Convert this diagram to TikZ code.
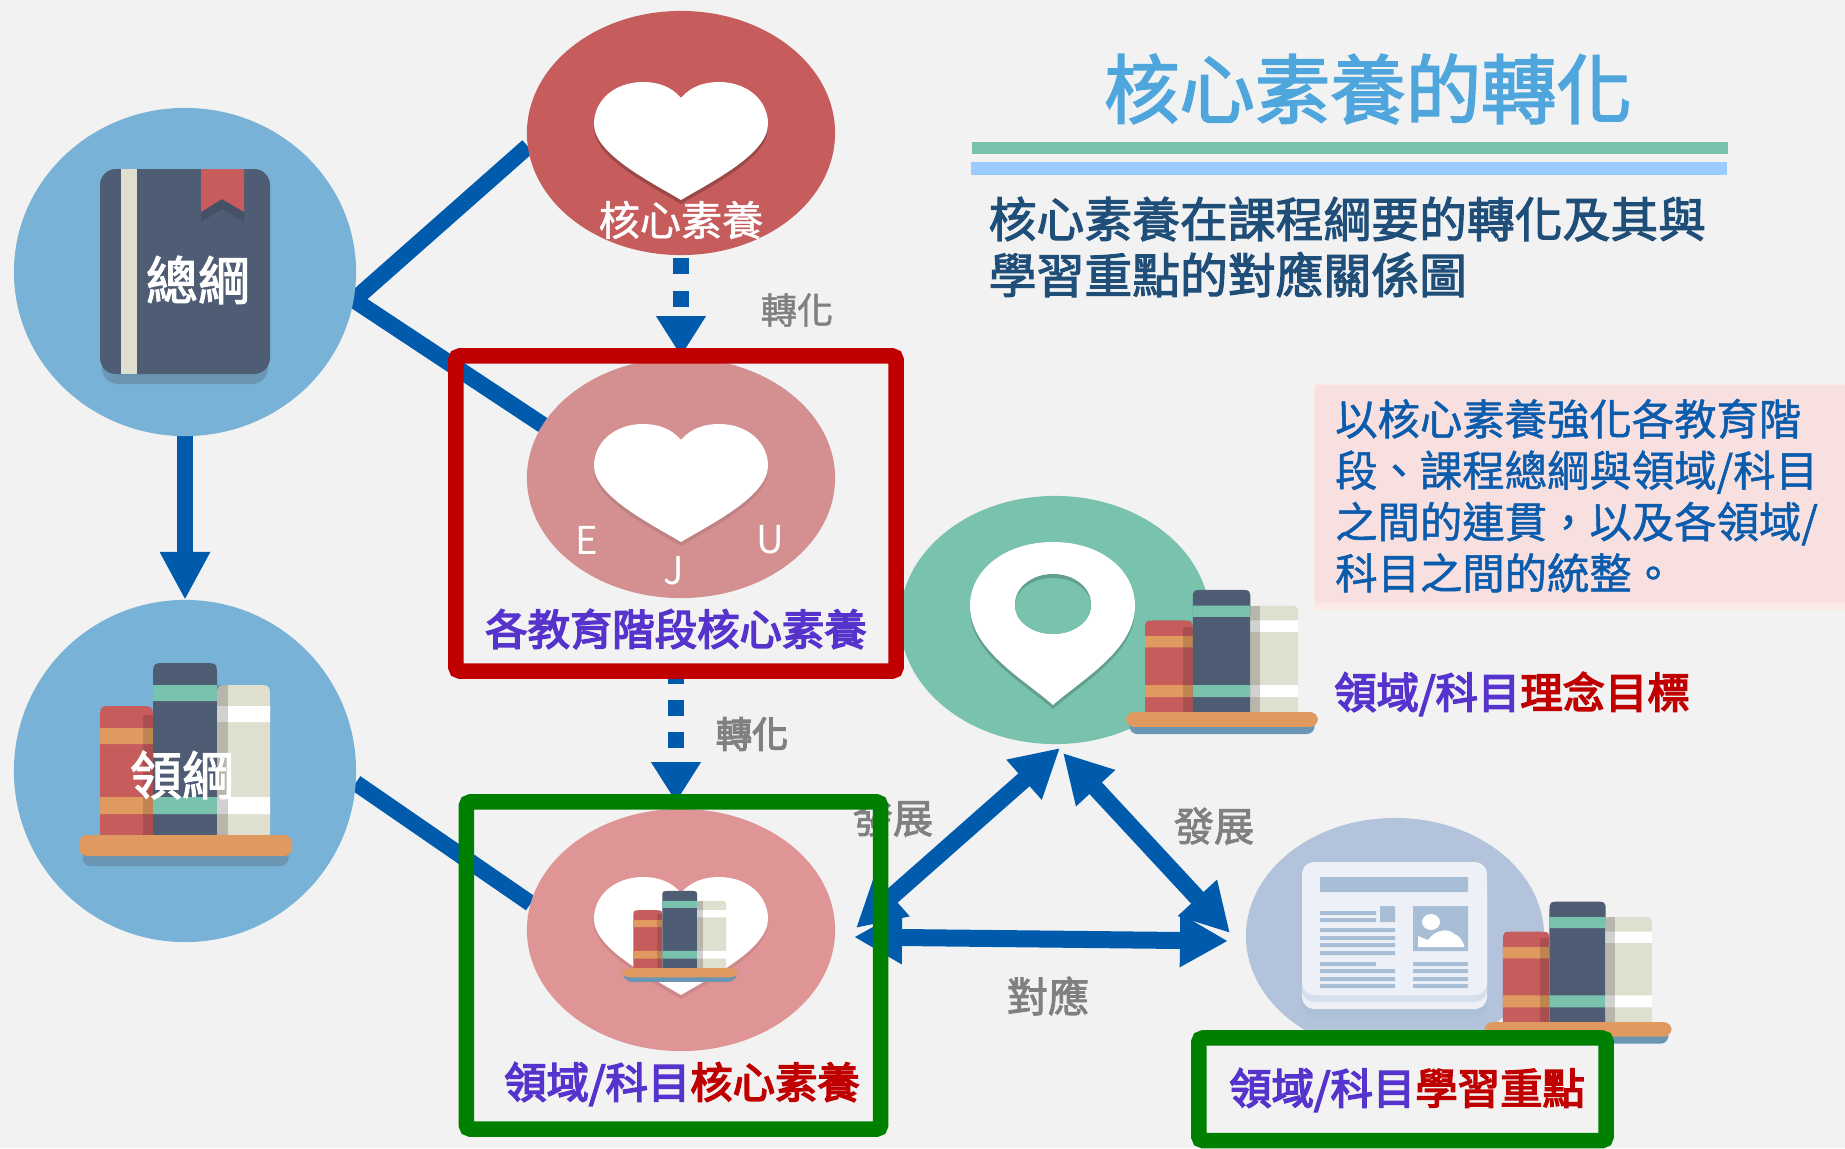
\documentclass[tikz,border=0pt]{standalone}
\usepackage{fontspec}
\setmainfont{Noto Sans CJK TC}
\newfontfamily\heavyfont[FakeBold=3.6]{Noto Sans CJK TC}
\newfontfamily\semifont[FakeBold=2.2]{Noto Sans CJK TC}
\newfontfamily\slightfont[FakeBold=1.2]{Noto Sans CJK TC}
\usepackage{xcolor}
\usepackage{tikz}
\usetikzlibrary{arrows.meta,shapes.geometric,positioning,backgrounds}

\definecolor{pagegrey}{HTML}{F2F2F2}
\definecolor{linkblue}{HTML}{005BAC}
\definecolor{skyblue}{HTML}{78B3D7}
\definecolor{corered}{HTML}{C65C5C}
\definecolor{levelrose}{HTML}{D49090}
\definecolor{arearose}{HTML}{DF9495}
\definecolor{aimteal}{HTML}{79C2AE}
\definecolor{goalblue}{HTML}{B3C3DB}
\definecolor{paperwhite}{HTML}{EDF1F7}
\definecolor{paperline}{HTML}{A8BDD6}
\definecolor{slatebook}{HTML}{4E5C74}
\definecolor{ivorybook}{HTML}{DFDFD0}
\definecolor{shelforange}{HTML}{E09A5F}
\definecolor{shelfshade}{HTML}{6A96B4}
\definecolor{framered}{HTML}{C00000}
\definecolor{framegreen}{HTML}{008000}
\definecolor{labelpurple}{HTML}{5533CC}
\definecolor{notepink}{HTML}{F9E0E0}
\definecolor{notetint}{HTML}{FCEBE4}
\definecolor{noteblue}{HTML}{0B5CAD}
\definecolor{subnavy}{HTML}{1F4E79}
\definecolor{titleblue}{HTML}{4EA6DC}
\definecolor{ruleblue}{HTML}{9CCBFF}

\newcommand{\bookbody}[3]{(#1,0) -- (#1,{#3+14}) .. controls (#1,#3) .. ({#1+14},#3) -- ({#2-14},#3) .. controls (#2,#3) .. (#2,{#3+14}) -- (#2,0) -- cycle}

\tikzset{
  disc/.style={ellipse,inner sep=0pt,outer sep=0pt},
  frame/.style={draw,rounded corners=0.04cm,line width=0.155cm},
  label/.style={inner sep=0pt,font=\fontsize{12.05}{14}\heavyfont},
  whitelabel/.style={inner sep=0pt,text=white,font=\fontsize{14.8}{16}\semifont},
  letter/.style={inner sep=0pt,text=white,font=\fontsize{10.9}{12}\selectfont},
  remark/.style={inner sep=0pt,text=gray,font=\fontsize{11.4}{13}\slightfont},
  link/.style={draw=linkblue,line width=0.165cm},
  bigarrow/.style={draw=linkblue,line width=0.16cm,-{Triangle[length=0.48cm,width=0.47cm]}},
  dasharrow/.style={draw=linkblue,line width=0.16cm,-{Triangle[length=0.40cm,width=0.47cm]},shorten >=-0.08cm},
  twoarrow/.style={draw=linkblue,line width=0.17cm,{Triangle[length=0.48cm,width=0.5cm]}-{Triangle[length=0.48cm,width=0.5cm]}},
  pics/heart/.style={code={
    \fill[#1] (0,20) .. controls (10,8) and (24,4) .. (38,4) .. controls (66,4) and (87,22) .. (87,46) .. controls (87,76) and (30,104) .. (0,122) .. controls (-30,104) and (-87,76) .. (-87,46) .. controls (-87,22) and (-66,4) .. (-38,4) .. controls (-24,4) and (-10,8) .. (0,20) -- cycle;
    \fill[white] (0,16) .. controls (10,4) and (24,0) .. (38,0) .. controls (66,0) and (87,18) .. (87,42) .. controls (87,72) and (30,100) .. (0,118) .. controls (-30,100) and (-87,72) .. (-87,42) .. controls (-87,18) and (-66,0) .. (-38,0) .. controls (-24,0) and (-10,4) .. (0,16) -- cycle;
  }},
  pics/bookshelf/.style={code={
    \fill[shelfshade,rounded corners=0.08cm] (-103,10) rectangle (103,31);
    \fill[corered] \bookbody{-85.5}{-32.5}{-129};
    \fill[shelforange] (-85.5,-107) rectangle (-32.5,-91) (-85.5,-38) rectangle (-32.5,-21);
    \fill[black,opacity=0.14] (-43,-120) rectangle (-32.5,0);
    \fill[slatebook] \bookbody{-32.5}{31.5}{-172};
    \fill[aimteal] (-32.5,-150) rectangle (31.5,-134) (-32.5,-38) rectangle (31.5,-21);
    \fill[ivorybook] \bookbody{31.5}{84.5}{-150};
    \fill[white] (31.5,-129) rectangle (84.5,-113) (31.5,-38) rectangle (84.5,-21);
    \fill[black,opacity=0.18] (31.5,-150) rectangle (42,0);
    \fill[shelforange,rounded corners=0.08cm] (-106.5,0) rectangle (106.5,21);
  }}
}

\begin{document}
\begin{tikzpicture}[x=0.01cm,y=-0.01cm]
\useasboundingbox (0,0) rectangle (1845,1148);

\node[disc,fill=skyblue,minimum width=3.42cm,minimum height=3.28cm] (outline) at (185,272) {};
\node[disc,fill=skyblue,minimum width=3.42cm,minimum height=3.42cm] (fieldoutline) at (185,771) {};
\node[disc,fill=corered,minimum width=3.08cm,minimum height=2.44cm] (core) at (681,133) {};
\node[disc,fill=levelrose,minimum width=3.08cm,minimum height=2.40cm] (levelcore) at (681,478) {};
\node[disc,fill=arearose,minimum width=3.08cm,minimum height=2.42cm] (areacore) at (681,930) {};
\node[disc,fill=aimteal,minimum width=3.10cm,minimum height=2.48cm] (aim) at (1055,620) {};
\node[disc,fill=goalblue,minimum width=2.98cm,minimum height=2.36cm] (goal) at (1395,936) {};

\coordinate (fork) at (354,300);
\begin{pgfonlayer}{background}
\fill[pagegrey] (0,0) rectangle (1845,1148);
\draw[link] (core.185) -- (fork) -- (levelcore.159);
\draw[link] (fieldoutline.-4) -- (areacore.170);
\end{pgfonlayer}

\fill[shelfshade,rounded corners=0.16cm] (102,200) rectangle (268,384);
\fill[slatebook,rounded corners=0.16cm] (100,169) rectangle (270,374);
\fill[ivorybook] (121,169) rectangle (137,374);
\fill[black!12!slatebook] (201,179) -- (201,222) -- (222,209) -- (244,222) -- (244,179) -- cycle;
\fill[corered] (201,169) -- (201,212) -- (222,199) -- (244,212) -- (244,169) -- cycle;

\pic (fieldbooks) at (185.5,835) {bookshelf};
\pic (coreheart) at (681,82) {heart=black!22!corered};
\pic (levelheart) at (681,424) {heart=black!10!levelrose};
\pic (areaheart) at (681,877) {heart=black!8!arearose};
\pic[xscale=0.545,yscale=0.448] (areabooks) at (680,968) {bookshelf};

\fill[black!18!aimteal] (1053,709) .. controls (1025,684) and (970,654) .. (970,610) .. controls (970,574) and (1005,546) .. (1053,546) .. controls (1101,546) and (1135,574) .. (1135,610) .. controls (1135,654) and (1081,684) .. (1053,709) -- cycle;
\fill[white] (1053,705) .. controls (1025,680) and (970,650) .. (970,606) .. controls (970,570) and (1005,542) .. (1053,542) .. controls (1101,542) and (1135,570) .. (1135,606) .. controls (1135,650) and (1081,680) .. (1053,705) -- cycle;
\fill[black!18!aimteal] (1053,604) ellipse (38 and 30);
\fill[aimteal] (1053,606) ellipse (38 and 28);
\pic[xscale=0.9,yscale=0.71] (aimbooks) at (1222,712) {bookshelf};

\fill[paperline!60!goalblue,rounded corners=0.12cm] (1302,880) rectangle (1487,1017);
\fill[paperwhite,rounded corners=0.12cm] (1302,880) rectangle (1487,1009);
\fill[goalblue!40!paperwhite,rounded corners=0.12cm] (1302,880) rectangle (1487,1002);
\fill[paperwhite,rounded corners=0.12cm] (1302,862) rectangle (1487,995);
\fill[paperline] (1320,877) rectangle (1468,892) (1320,911) rectangle (1376,915) (1320,918) rectangle (1376,922) (1380,906) rectangle (1395,922)
  (1320,928) rectangle (1395,932) (1320,936) rectangle (1395,940) (1320,943) rectangle (1395,947) (1320,951) rectangle (1395,955)
  (1320,962) rectangle (1376,966) (1320,969) rectangle (1395,973) (1320,977) rectangle (1395,981) (1320,984) rectangle (1395,988)
  (1413,962) rectangle (1468,966) (1413,969) rectangle (1468,973) (1413,977) rectangle (1468,981) (1413,984) rectangle (1468,988)
  (1413,906) rectangle (1468,951);
\fill[white] (1431,922) ellipse (9 and 8);
\fill[white] (1418,947) -- (1418,936) -- (1428,940) .. controls (1435,930) and (1447,928) .. (1453,933) .. controls (1460,937) .. (1464,945) -- (1464,947) -- cycle;
\pic[xscale=0.878,yscale=0.70] (goalbooks) at (1578,1022) {bookshelf};

\coordinate (areaup) at (856,928);
\coordinate (aimleft) at (1060,748);
\coordinate (aimright) at (1063,753);
\coordinate (goalup) at (1230,933);
\coordinate (areaside) at (854,937);
\coordinate (goalside) at (1228,941);

\node[remark,font=\fontsize{11.4}{13}\semifont] (leftgrow) at (893,818) {發展};
\node[remark,font=\fontsize{11.4}{13}\semifont] (rightgrow) at (1214,826) {發展};
\node[remark,font=\fontsize{11.7}{13}\semifont] (match) at (1048,996) {對應};
\node[remark,font=\fontsize{10.3}{12}\slightfont] (turnone) at (797,310) {轉化};
\node[remark,font=\fontsize{10.3}{12}\heavyfont] (turntwo) at (752,734) {轉化};

\draw[twoarrow] (areaup) -- (aimleft);
\draw[twoarrow] (aimright) -- (goalup);
\draw[twoarrow] (areaside) -- (goalside);

\node[frame,draw=framered,minimum width=4.40cm,minimum height=3.15cm] (levelbox) at (676,513.5) {};
\node[frame,draw=framegreen,minimum width=4.14cm,minimum height=3.27cm] (areabox) at (673.5,965.5) {};
\node[frame,draw=framegreen,fill=pagegrey,minimum width=4.07cm,minimum height=1.025cm] (goalbox) at (1402.5,1089.25) {};

\begin{pgfonlayer}{background}
\draw[bigarrow] (outline.south) -- (fieldoutline.north);
\draw[dasharrow,dash pattern=on 0.16cm off 0.17cm,shorten <=0.03cm] (core.south) -- (core.south |- levelbox.north);
\draw[dasharrow,xshift=0.02cm,dash pattern=on 0.16cm off 0.16cm,dash phase=0.11cm] (levelbox.south) -- (levelbox.south |- areabox.north);
\end{pgfonlayer}

\node[whitelabel] (outlinetext) at (198,280) {總綱};
\node[whitelabel] (fieldtext) at (182,775) {領綱};
\node[label,text=white,font=\fontsize{11.7}{14}\slightfont] (coretext) at (681,220) {核心素養};
\node[letter] (letterE) at (587,540) {E};
\node[letter] (letterJ) at (674,571) {J};
\node[letter] (letterU) at (770,540) {U};
\node[label,text=labelpurple] (leveltext) at (676,629) {各教育階段核心素養};
\node[label] (areatext) at (682,1084) {\textcolor{labelpurple}{領域/科目}\textcolor{framered}{核心素養}};
\node[label] (goaltext) at (1407,1090) {\textcolor{labelpurple}{領域/科目}\textcolor{framered}{學習重點}};
\node[label] (aimtext) at (1512,694) {\textcolor{labelpurple}{領域/科目}\textcolor{framered}{理念目標}};

\node[inner sep=0pt,text=titleblue,font=\fontsize{21.45}{24}\semifont] (title) at (1368,89) {核心素養的轉化};
\fill[aimteal] (972,142) rectangle (1728,154);
\fill[notetint] (1314,384) rectangle (1845,610);
\fill[ruleblue] (971,162) rectangle (1727,175);
\node[anchor=west,inner sep=0pt,align=left,text=subnavy,font=\fontsize{13.6}{15.93}\semifont] (subtitle) at (988,247) {核心素養在課程綱要的轉化及其與\\學習重點的對應關係圖};
\node[anchor=north west,fill=notepink,inner sep=0pt,minimum width=5.31cm,minimum height=2.18cm] (notebox) at (1314,384) {};
\node[right=0.205cm of notebox.west,yshift=-0.02cm,inner sep=0pt,align=left,text=noteblue,font=\fontsize{12.05}{14.6}\slightfont] (notetext) {以核心素養強化各教育階\\段、課程總綱與領域/科目\\之間的連貫，以及各領域/\\科目之間的統整。};

\end{tikzpicture}
\end{document}
